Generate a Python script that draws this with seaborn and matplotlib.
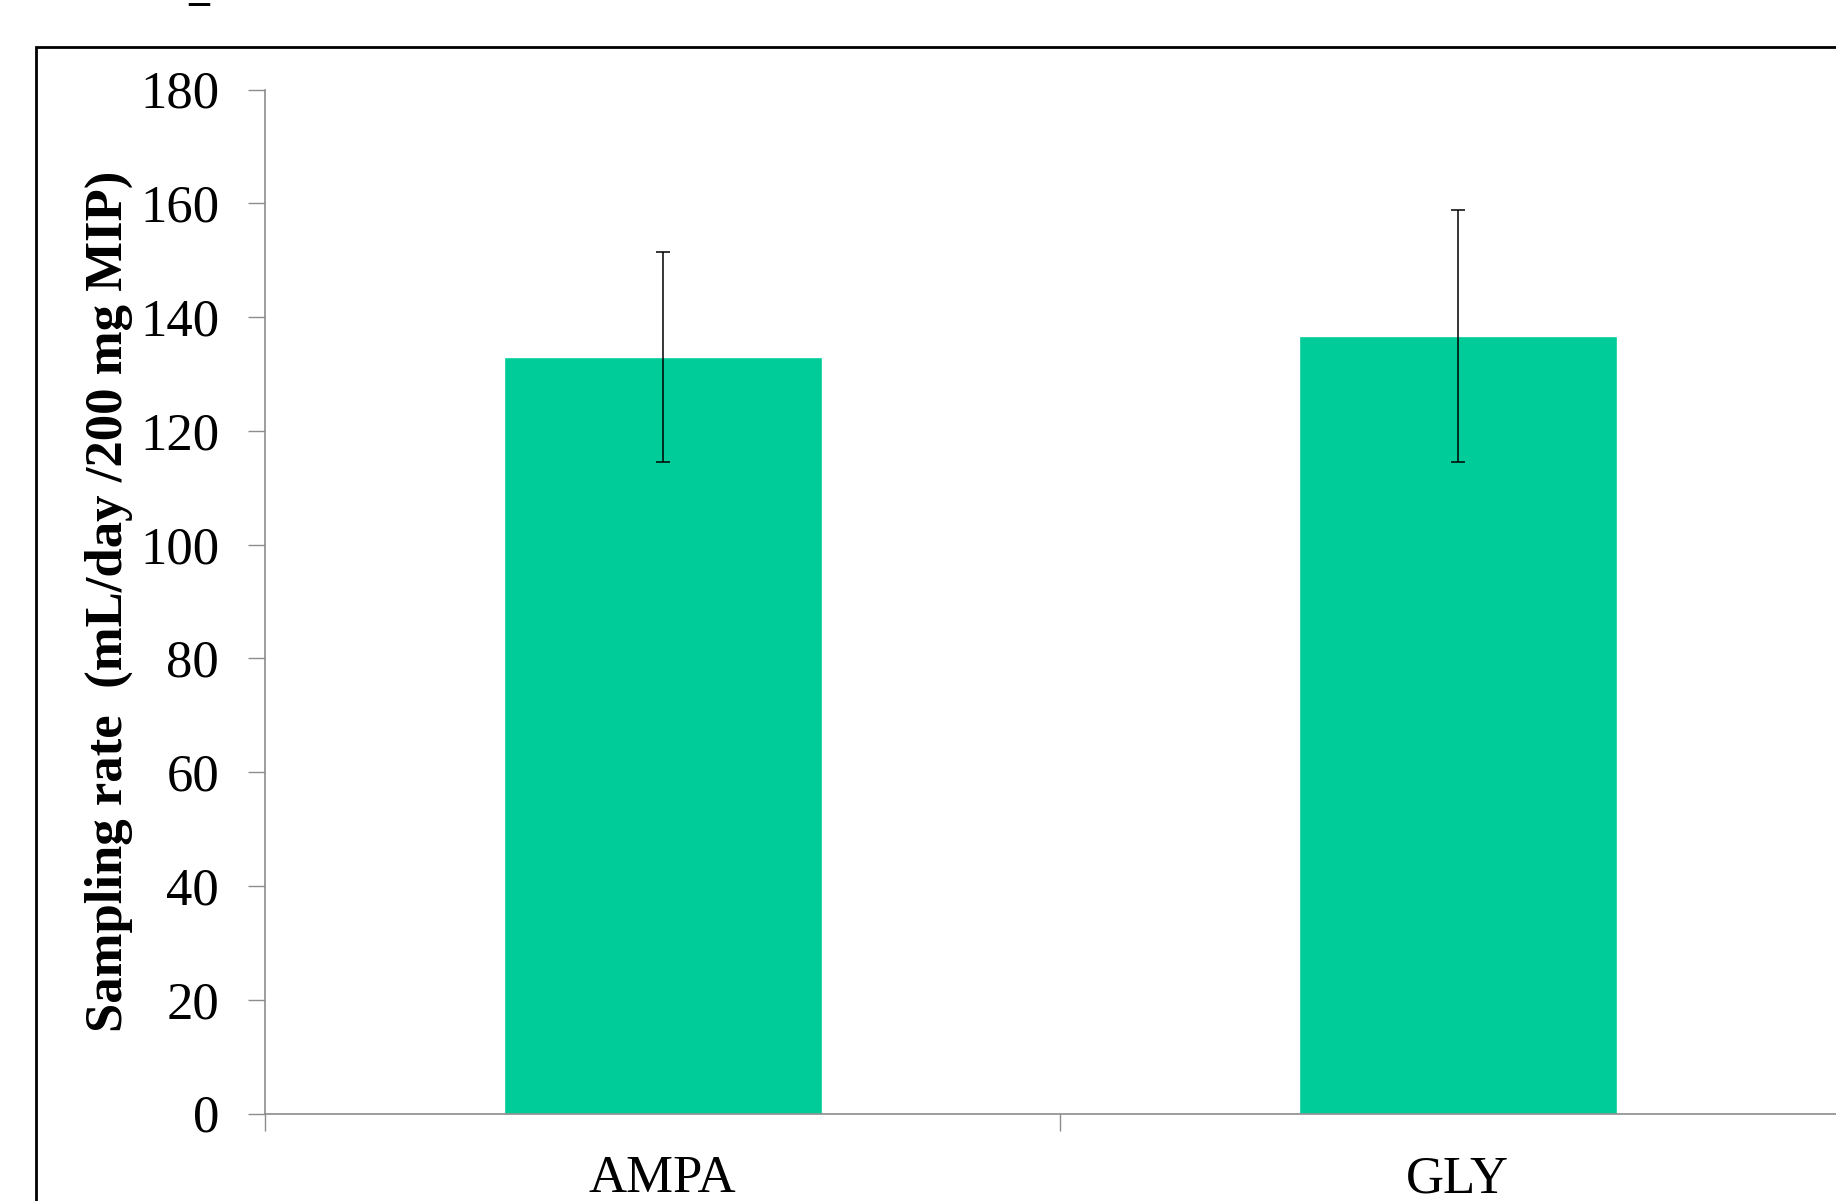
import numpy as np
import pandas as pd
import seaborn as sns
import matplotlib.pyplot as plt
from matplotlib.patches import Rectangle

# values
categories = ['AMPA', 'GLY']
rates = [133.0, 136.7]
errors = [18.5, 22.2]
yticks = [0, 20, 40, 60, 80, 100, 120, 140, 160, 180]

sns.set_style('white')
plt.rcParams['font.family'] = ['Liberation Serif', 'DejaVu Serif']
plt.rcParams['text.color'] = 'black'
plt.rcParams['axes.labelcolor'] = 'black'

df = pd.DataFrame({'compound': categories, 'rate': rates})

fig = plt.figure(figsize=(18.36, 12.01), dpi=100)
# axes extend past the right edge, like the cropped original
ax = fig.add_axes([265 / 1836, 87.5 / 1201, 1590 / 1836, 1024 / 1201])

sns.barplot(data=df, x='compound', y='rate', color='#00CC99', saturation=1,
            width=0.4, errorbar=None, ax=ax)
ax.errorbar(np.arange(len(categories)), rates, yerr=errors, fmt='none',
            ecolor='black', elinewidth=1.1, capsize=5, capthick=1.1)

ax.set_xlim(-0.5, 1.5)
ax.set_ylim(0, 180)
ax.set_yticks(yticks)
ax.set_xlabel('')
ax.set_ylabel('Sampling rate  (mL/day /200 mg MIP)', fontsize=38, fontweight='bold')
ax.yaxis.set_label_coords(-0.083, 0.5)

for s in ['top', 'right']:
    ax.spines[s].set_visible(False)
for s in ['left', 'bottom']:
    ax.spines[s].set_color('#8c8c8c')
    ax.spines[s].set_linewidth(1.2)

ax.tick_params(axis='y', length=12, width=1, color='#8c8c8c', pad=21, labelsize=38,
               labelcolor='black', left=True)
ax.tick_params(axis='x', which='major', length=0, pad=30, labelsize=38, labelcolor='black')
ax.set_xticks([-0.5, 0.5, 1.5], minor=True)
ax.tick_params(axis='x', which='minor', length=12, width=1, color='#8c8c8c', bottom=True)

# outer frame of the original figure, cut off on the right and bottom
fig.patches.append(Rectangle((36 / 1836, -0.5), 2, 0.5 + (1201 - 47) / 1201,
                             transform=fig.transFigure, fill=False,
                             edgecolor='black', linewidth=2, clip_on=False))
# mark at the very top edge (left over from a cut-off line above)
fig.text(188 / 1836, 1.024, '_', fontsize=30, fontweight='bold', va='top', ha='left')

fig.savefig('out.png', dpi=100)
